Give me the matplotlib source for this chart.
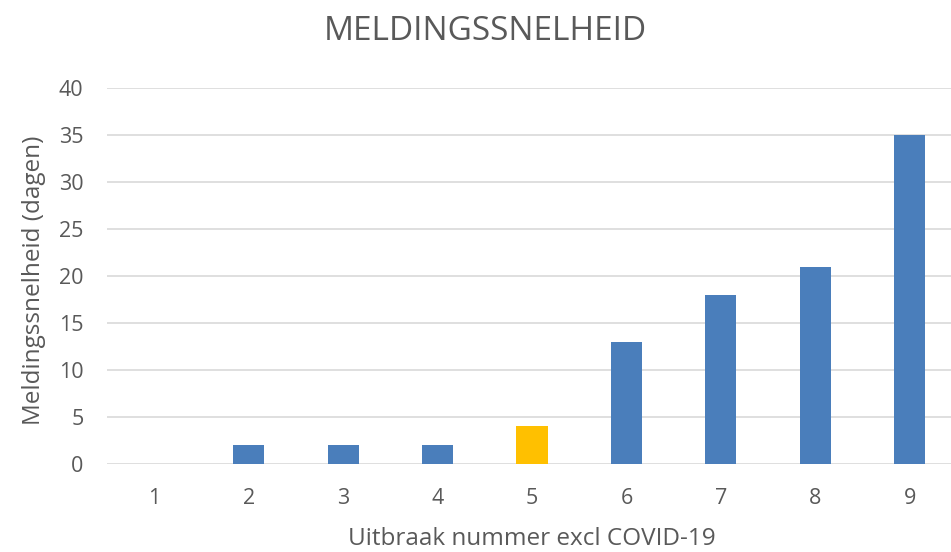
import matplotlib
matplotlib.use("Agg")
import matplotlib.pyplot as plt

categories = ["1", "2", "3", "4", "5", "6", "7", "8", "9"]
values = [0, 2, 2, 2, 4, 13, 18, 21, 35]
colors = ["#4A7EBB"] * 4 + ["#FFC000"] + ["#4A7EBB"] * 4
yticks = [0, 5, 10, 15, 20, 25, 30, 35, 40]

plt.rcParams['font.family'] = ['Open Sans', 'DejaVu Sans']
txt = "#595959"
W, H = 951, 552

fig = plt.figure(figsize=(9.51, 5.52), dpi=100)
ax = fig.add_axes([107/W, 1 - 464/H, 850/W, 376/H])
x = list(range(len(categories)))
ax.bar(x, values, width=0.33, color=colors, zorder=3)
ax.set_xlim(-0.5, len(categories) - 0.5)
ax.set_ylim(0, 40)
ax.set_yticks(yticks)
ax.set_xticks(x)
ax.set_xticklabels(categories)
ax.grid(axis='y', color="#D9D9D9", linewidth=1.2, zorder=0)
for s in ax.spines.values():
    s.set_visible(False)
ax.tick_params(length=0, labelsize=15.5, colors=txt)
ax.tick_params(axis='y', pad=17)
ax.tick_params(axis='x', pad=17)
fig.text(532/W, 1 - 545/H, "Uitbraak nummer excl COVID-19", ha='center', va='baseline',
         fontsize=17.5, color=txt)
fig.text(34/W, 1 - 280/H, "Meldingssnelheid (dagen)", ha='center', va='center',
         rotation=90, fontsize=17.5, color=txt)
fig.text(485/W, 1 - 31/H, "MELDINGSSNELHEID", ha='center', va='center', fontsize=24, color=txt)

fig.savefig("out.png", dpi=100)
